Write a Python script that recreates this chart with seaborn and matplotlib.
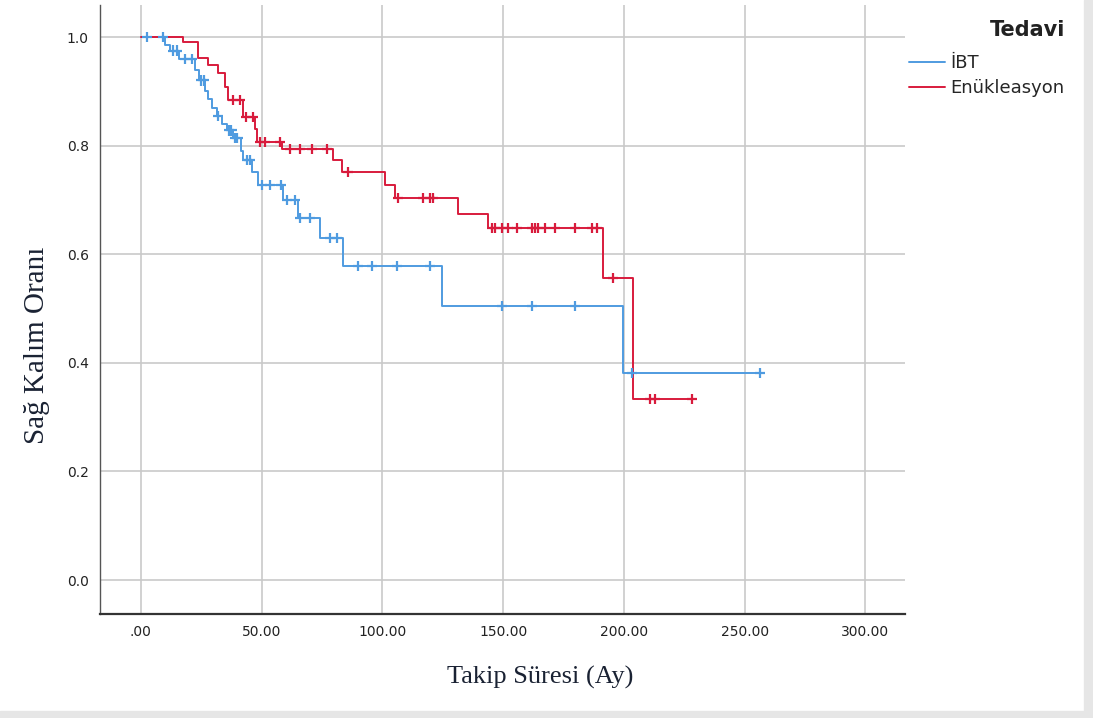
import numpy as np
import pandas as pd
import matplotlib
matplotlib.use("Agg")
import matplotlib.pyplot as plt
import seaborn as sns

# Kaplan-Meier basamaklari (okunan degerler)
ibt_t = [0, 10, 12, 16, 22.5, 24, 26.5, 28, 29.5, 31.5, 33.5, 35.5, 38, 41.5, 42.5,
         46, 48.6, 58.9, 65, 74.2, 83.7, 124.7, 199.7, 256.4]
ibt_s = [1.0, 0.985, 0.975, 0.96, 0.94, 0.92, 0.90, 0.885, 0.87, 0.855, 0.84, 0.828,
         0.814, 0.79, 0.773, 0.751, 0.727, 0.70, 0.667, 0.63, 0.578, 0.505, 0.381, 0.381]
ibt_cens = [2.6, 9.2, 13.5, 15.0, 18.5, 21.0, 24.8, 26.0, 32.0, 36.5, 37.5, 39.0, 40.0,
            44.0, 45.0, 50.2, 53.5, 58.0, 60.5, 63.8, 66.0, 70.1, 78.3, 81.2, 89.9,
            95.7, 106.1, 119.7, 149.6, 161.9, 179.8, 203.4, 256.4]

enu_t = [0, 17.5, 23.7, 27.8, 32.0, 34.9, 36.1, 42.3, 47.3, 48.0, 58.5, 79.6, 83.3,
         101.1, 105.3, 131.3, 143.7, 191.4, 203.8, 228.2]
enu_s = [1.0, 0.99, 0.961, 0.948, 0.934, 0.908, 0.884, 0.853, 0.83, 0.807, 0.794,
         0.773, 0.751, 0.727, 0.703, 0.674, 0.648, 0.556, 0.333, 0.333]
enu_cens = [38.2, 41.0, 43.5, 46.5, 49.4, 51.4, 57.6, 61.8, 66.0, 70.9, 77.0, 85.8,
            106.5, 116.8, 119.7, 121.0, 145.4, 146.7, 149.6, 152.1, 155.8, 162.0,
            163.3, 164.5, 167.4, 171.5, 179.8, 186.8, 188.9, 195.5, 210.8, 212.9, 228.2]

groups = ["İBT", "Enükleasyon"]
renkler = {"İBT": "#4f9be0", "Enükleasyon": "#d81b3c"}

def step_value(t, s, x):
    idx = np.searchsorted(t, x, side="right") - 1
    return np.array(s)[idx]

df_curve = pd.concat([
    pd.DataFrame({"t": ibt_t, "s": ibt_s, "Tedavi": "İBT"}),
    pd.DataFrame({"t": enu_t, "s": enu_s, "Tedavi": "Enükleasyon"}),
])
df_cens = pd.concat([
    pd.DataFrame({"t": ibt_cens, "s": step_value(ibt_t, ibt_s, ibt_cens), "Tedavi": "İBT"}),
    pd.DataFrame({"t": enu_cens, "s": step_value(enu_t, enu_s, enu_cens), "Tedavi": "Enükleasyon"}),
])

sns.set_style("white")

fig = plt.figure(figsize=(10.93, 7.18), dpi=100)
ax = fig.add_axes([100 / 1093, 1 - 614 / 718, 805 / 1093, 609 / 718])

sns.lineplot(data=df_curve, x="t", y="s", hue="Tedavi", palette=renkler,
             hue_order=groups, estimator=None, drawstyle="steps-post",
             linewidth=1.4, ax=ax, legend=False)
sns.scatterplot(data=df_cens, x="t", y="s", hue="Tedavi", palette=renkler,
                hue_order=groups, marker="+", s=55, linewidth=1.6, ax=ax,
                legend=False, zorder=3)

ax.set_xlim(-16.9, 316.4)
ax.set_ylim(-0.0626, 1.059)
ax.set_xticks(np.arange(0, 301, 50))
ax.set_xticklabels([".00", "50.00", "100.00", "150.00", "200.00", "250.00", "300.00"])
ax.set_yticks(np.arange(0, 1.01, 0.2))
ax.set_yticklabels(["0.0", "0.2", "0.4", "0.6", "0.8", "1.0"])
ax.tick_params(labelsize=10, length=0, pad=8, labelcolor="#222222")
ax.grid(True, color="#c9c9c9", linewidth=1.2)
ax.set_axisbelow(True)

for k in ["top", "right"]:
    ax.spines[k].set_visible(False)
ax.spines["left"].set_color("#555555")
ax.spines["left"].set_linewidth(1.0)
ax.spines["bottom"].set_color("#333333")
ax.spines["bottom"].set_linewidth(1.6)

ax.set_xlabel("Takip Süresi (Ay)", family="Liberation Serif", fontsize=19,
              color="#1a2233")
ax.set_ylabel("Sağ Kalım Oranı", family="Liberation Serif", fontsize=21,
              color="#1a2233")
ax.xaxis.set_label_coords(0.547, -0.085)
ax.yaxis.set_label_coords(-0.062, 0.442)

handles = [plt.Line2D([], [], color=renkler[g], lw=1.4) for g in groups]
leg = fig.legend(handles, groups, loc="upper left",
                 bbox_to_anchor=(893 / 1093, 1 - 38 / 718), frameon=False,
                 fontsize=13, handlelength=2.0, handletextpad=0.25,
                 labelspacing=0.4)
fig.text(1065 / 1093, 1 - 30 / 718, "Tedavi", ha="right", va="center",
         fontsize=15, fontweight="bold", color="#222222")

# ekran goruntusu kenari
fig.patches.append(plt.Rectangle((1084 / 1093, 0), 9 / 1093, 1, transform=fig.transFigure,
                                 color="#e6e6e6", zorder=-1))
fig.patches.append(plt.Rectangle((0, 0), 1, 7 / 718, transform=fig.transFigure,
                                 color="#e6e6e6", zorder=-1))

fig.savefig("out.png", dpi=100)
